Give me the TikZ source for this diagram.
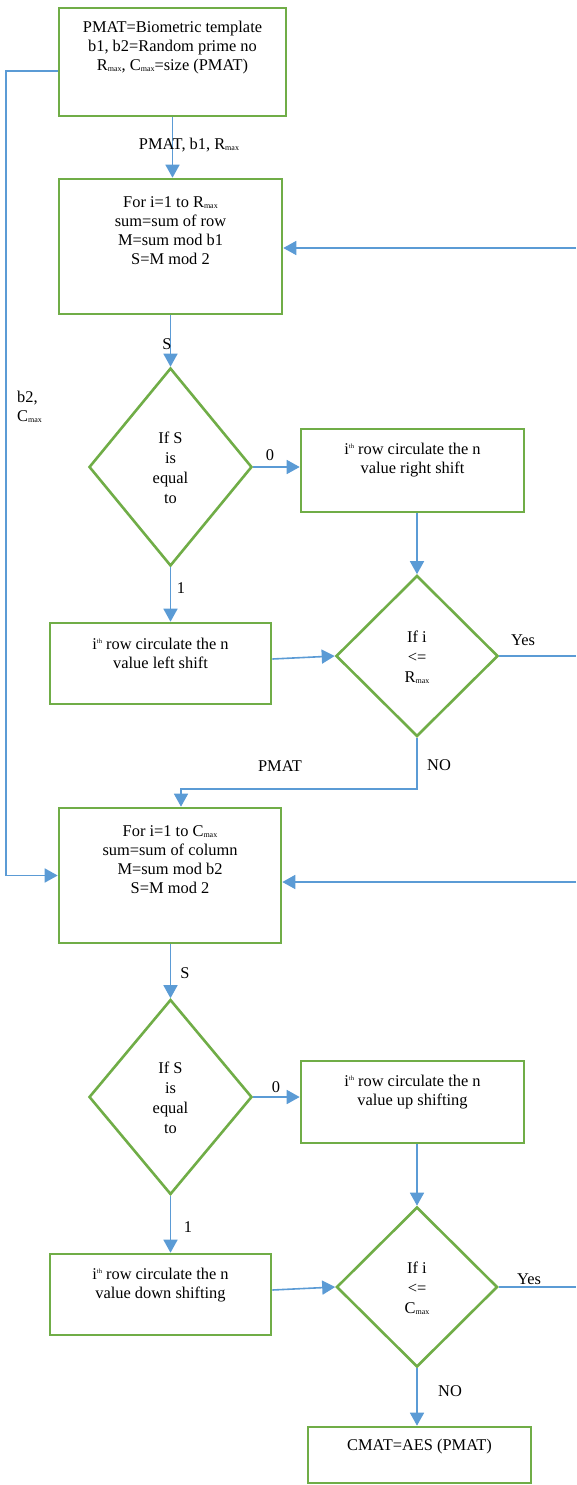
\documentclass[tikz,border=0pt]{standalone}
\usepackage{fontspec}
\setmainfont{Liberation Serif}
\usetikzlibrary{shapes.geometric,arrows.meta}
\definecolor{boxgreen}{HTML}{70AD47}
\definecolor{linkblue}{HTML}{5B9BD5}
\newcommand\mxsub{\raisebox{-1pt}{\fontsize{8}{8}\selectfont max}}
\newcommand\thsup{\raisebox{6pt}{\fontsize{6.5}{6.5}\selectfont th}}
\begin{document}
\begin{tikzpicture}[x=1pt,y=-1pt,
  font=\fontsize{16.4}{19}\selectfont,
  stepbox/.style={draw=boxgreen,line width=2.6pt,rectangle,inner sep=0pt},
  decision/.style={draw=boxgreen,line width=2.6pt,diamond,inner sep=0pt},
  txt/.style={align=center,inner sep=0pt},
  lbl/.style={inner sep=0pt},
  arr/.style={draw=linkblue,line width=1.6pt,-{Triangle[length=13pt,width=14pt]}},
  link/.style={draw=linkblue,line width=1.6pt}]
\useasboundingbox (0,0) rectangle (576,1485);

% process boxes
\node[stepbox,minimum width=227pt,minimum height=108pt] (b1) at (172.5,62) {};
\node[txt] (t1) at (172.5,47.5) {PMAT=Biometric template\\b1, b2=Random prime no\\R\mxsub, C\mxsub=size (PMAT)};

\node[stepbox,minimum width=223pt,minimum height=135pt] (b2) at (170.5,246.5) {};
\node[txt] (t2) at (170.5,231) {For i=1 to R\mxsub\\sum=sum of row\\M=sum mod b1\\S=M mod 2};

\node[decision,minimum width=163pt,minimum height=198pt] (d1) at (170.5,467) {};
\node[txt,font=\fontsize{16.4}{20}\selectfont] (td1) at (170.5,468) {If S\\is\\equal\\to};

\node[stepbox,minimum width=223pt,minimum height=83pt] (rs) at (412.5,470.5) {};
\node[txt] (trs) at (412.5,460) {i\thsup\ row circulate the n\\value right shift};

\node[decision,minimum width=162pt,minimum height=161pt] (d2) at (417,656) {};
\node[txt,font=\fontsize{16.4}{20}\selectfont] (td2) at (417,657) {If i\\<=\\R\mxsub};

\node[stepbox,minimum width=221pt,minimum height=81pt] (ls) at (160.5,663.5) {};
\node[txt] (tls) at (160.5,653) {i\thsup\ row circulate the n\\value left shift};

\node[stepbox,minimum width=222pt,minimum height=135pt] (b3) at (170,875.5) {};
\node[txt] (t3) at (170,860) {For i=1 to C\mxsub\\sum=sum of column\\M=sum mod b2\\S=M mod 2};

\node[decision,minimum width=163pt,minimum height=195pt] (d3) at (170.5,1097) {};
\node[txt,font=\fontsize{16.4}{20}\selectfont] (td3) at (170.5,1098) {If S\\is\\equal\\to};

\node[stepbox,minimum width=223pt,minimum height=82pt] (us) at (412.5,1102) {};
\node[txt] (tus) at (412.5,1092) {i\thsup\ row circulate the n\\value up shifting};

\node[decision,minimum width=161pt,minimum height=160pt] (d4) at (417,1287) {};
\node[txt,font=\fontsize{16.4}{20}\selectfont] (td4) at (417,1288) {If i\\<=\\C\mxsub};

\node[stepbox,minimum width=221pt,minimum height=81pt] (ds) at (160.5,1294.5) {};
\node[txt] (tds) at (160.5,1285) {i\thsup\ row circulate the n\\value down shifting};

\node[stepbox,minimum width=223pt,minimum height=56pt] (cm) at (419.5,1455) {};
\node[txt] (tcm) at (419.5,1447) {CMAT=AES (PMAT)};

% free ends and bends of connectors
\coordinate (lft) at (6,71);
\coordinate (back1) at (576,248);
\coordinate (yes1) at (576,656);
\coordinate (join) at (181,789);
\coordinate (back2) at (576,882);
\coordinate (yes2) at (576,1287);

% connectors
\draw[arr] (b1.west |- lft) -- (lft) |- (b3.west);
\draw[arr] (b1.south) -- (b1.south |- b2.north);
\draw[arr] (back1) -- (b2.east |- back1);
\draw[arr] (b2.south -| d1) -- (d1.north);
\draw[arr] (d1.east) -- (rs.west |- d1.east);
\draw[arr] (rs.south -| d2) -- (d2.north);
\draw[arr] (d1.south) -- (d1.south |- ls.north);
\draw[arr] ([yshift=4.5pt]ls.east) -- (d2.west);
\draw[link] (d2.east) -- (yes1);
\draw[arr] (d2.south) |- (join) -- (join |- b3.north);
\draw[arr] (back2) -- (b3.east |- back2);
\draw[arr] (b3.south -| d3) -- (d3.north);
\draw[arr] (d3.east) -- (us.west |- d3.east);
\draw[arr] (us.south -| d4) -- (d4.north);
\draw[arr] (d3.south) -- (d3.south |- ds.north);
\draw[arr] ([yshift=4.5pt]ds.east) -- (d4.west);
\draw[link] (d4.east) -- (yes2);
\draw[arr] (d4.south) -- (d4.south |- cm.north);

% connector labels
\node[lbl] (l1) at (189,145) {PMAT, b1, R\mxsub};
\node[lbl,align=left,anchor=west] (l2) at (17,407) {b2,\\C\mxsub};
\node[lbl] (l3) at (167,344) {S};
\node[lbl] (l4) at (270,455) {0};
\node[lbl] (l5) at (181,588) {1};
\node[lbl] (l6) at (523,640) {Yes};
\node[lbl] (l7) at (439,765) {NO};
\node[lbl] (l8) at (280,766) {PMAT};
\node[lbl] (l9) at (185,973) {S};
\node[lbl] (l10) at (276,1087) {0};
\node[lbl] (l11) at (188,1227) {1};
\node[lbl] (l12) at (529,1279) {Yes};
\node[lbl] (l13) at (450,1391) {NO};
\end{tikzpicture}
\end{document}
